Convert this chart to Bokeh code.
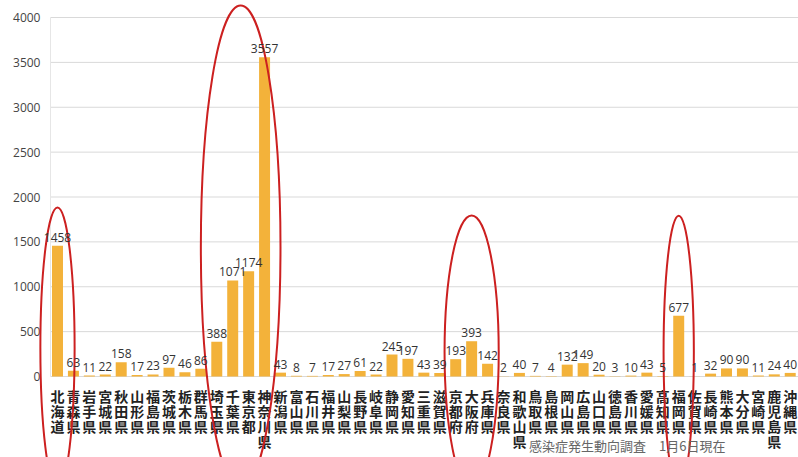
from bokeh.plotting import figure
from bokeh.models import Range1d, ColumnDataSource, LabelSet, Label
from bokeh.embed import file_html
from bokeh.resources import INLINE
from bokeh.core.properties import value

prefectures = ["北海道", "青森県", "岩手県", "宮城県", "秋田県", "山形県", "福島県", "茨城県", "栃木県", "群馬県",
               "埼玉県", "千葉県", "東京都", "神奈川県", "新潟県", "富山県", "石川県", "福井県", "山梨県", "長野県",
               "岐阜県", "静岡県", "愛知県", "三重県", "滋賀県", "京都府", "大阪府", "兵庫県", "奈良県", "和歌山県",
               "鳥取県", "島根県", "岡山県", "広島県", "山口県", "徳島県", "香川県", "愛媛県", "高知県", "福岡県",
               "佐賀県", "長崎県", "熊本県", "大分県", "宮崎県", "鹿児島県", "沖縄県"]
cases = [1458, 63, 11, 22, 158, 17, 23, 97, 46, 86,
         388, 1071, 1174, 3557, 43, 8, 7, 17, 27, 61,
         22, 245, 197, 43, 39, 193, 393, 142, 2, 40,
         7, 4, 132, 149, 20, 3, 10, 43, 5, 677,
         1, 32, 90, 90, 11, 24, 40]
y_ticks = [0, 500, 1000, 1500, 2000, 2500, 3000, 3500, 4000]
caption = "感染症発生動向調査　1月6日現在"

# highlighted groups (hand-drawn red ellipses)
highlight_groups = [["北海道"], ["埼玉県", "千葉県", "東京都", "神奈川県"], ["京都府", "大阪府", "兵庫県"], ["福岡県"]]
highlight_tops = [1883, 4134, 1794, 1794]
highlight_widths = [2.15, 5.0, 3.4, 1.9]
ellipse_bottom = -1250

U = 4000 / 359.0           # data units per pixel (vertical)
GRID_X0 = -0.44            # left end of the grid lines (category units)
X_START, X_END = -3.578, 46.52

p = figure(width=798, height=457, output_backend="svg", toolbar_location=None,
           x_range=Range1d(X_START, X_END), y_range=Range1d(-81 * U, 4000 + 17 * U),
           x_axis_location=None, y_axis_location=None, min_border=0,
           outline_line_color=None, background_fill_color="white", border_fill_color="white")
p.grid.visible = False

# grid lines and y tick labels
p.segment(x0=[GRID_X0] * len(y_ticks), x1=[X_END] * len(y_ticks), y0=y_ticks, y1=y_ticks,
          line_color="#d9d9d9", line_width=1)
p.segment(x0=[GRID_X0], x1=[GRID_X0], y0=[min(y_ticks)], y1=[max(y_ticks)],
          line_color="#e6e6e6", line_width=1)
p.text(x=[GRID_X0] * len(y_ticks), y=y_ticks, text=[str(t) for t in y_ticks], x_offset=-10,
       text_align="right", text_baseline="middle", text_font=value("Open Sans"),
       text_font_size="12px", text_color="#444444")

idx = list(range(len(prefectures)))
src = ColumnDataSource(dict(x=idx, top=cases, lab=[str(v) for v in cases]))
p.vbar(x="x", top="top", width=0.69, source=src, fill_color="#F3B23A", line_color=None)

labels = LabelSet(x="x", y="top", text="lab", source=src, text_align="center",
                  text_baseline="bottom", y_offset=4, text_font=value("Open Sans"),
                  text_font_size="12px", text_color="#333333")
p.add_layout(labels)

# vertical category labels, one character per row
cx, cy, ct = [], [], []
row0 = -19 * U
pitch = 15 * U
for i, name in enumerate(prefectures):
    for r, ch in enumerate(name):
        cx.append(i)
        cy.append(row0 - r * pitch)
        ct.append(ch)
p.text(x=cx, y=cy, text=ct, text_align="center", text_baseline="middle",
       text_font=value("Noto Sans CJK JP"), text_font_style="bold",
       text_font_size="14px", text_color="#222222")

# red ellipses
ex, ey, ew, eh = [], [], [], []
for grp, top, w in zip(highlight_groups, highlight_tops, highlight_widths):
    ids = [prefectures.index(g) for g in grp]
    ex.append(sum(ids) / len(ids))
    ey.append((top + ellipse_bottom) / 2)
    ew.append(w)
    eh.append(top - ellipse_bottom)
p.ellipse(x=ex, y=ey, width=ew, height=eh, fill_color=None, line_color="#CC2020", line_width=2)

p.add_layout(Label(x=29.6, y=-69 * U, text=caption, text_baseline="middle",
                   text_font="Noto Sans CJK JP", text_font_size="13px", text_color="#666666"))

open("out.html", "w").write(file_html(p, INLINE))
